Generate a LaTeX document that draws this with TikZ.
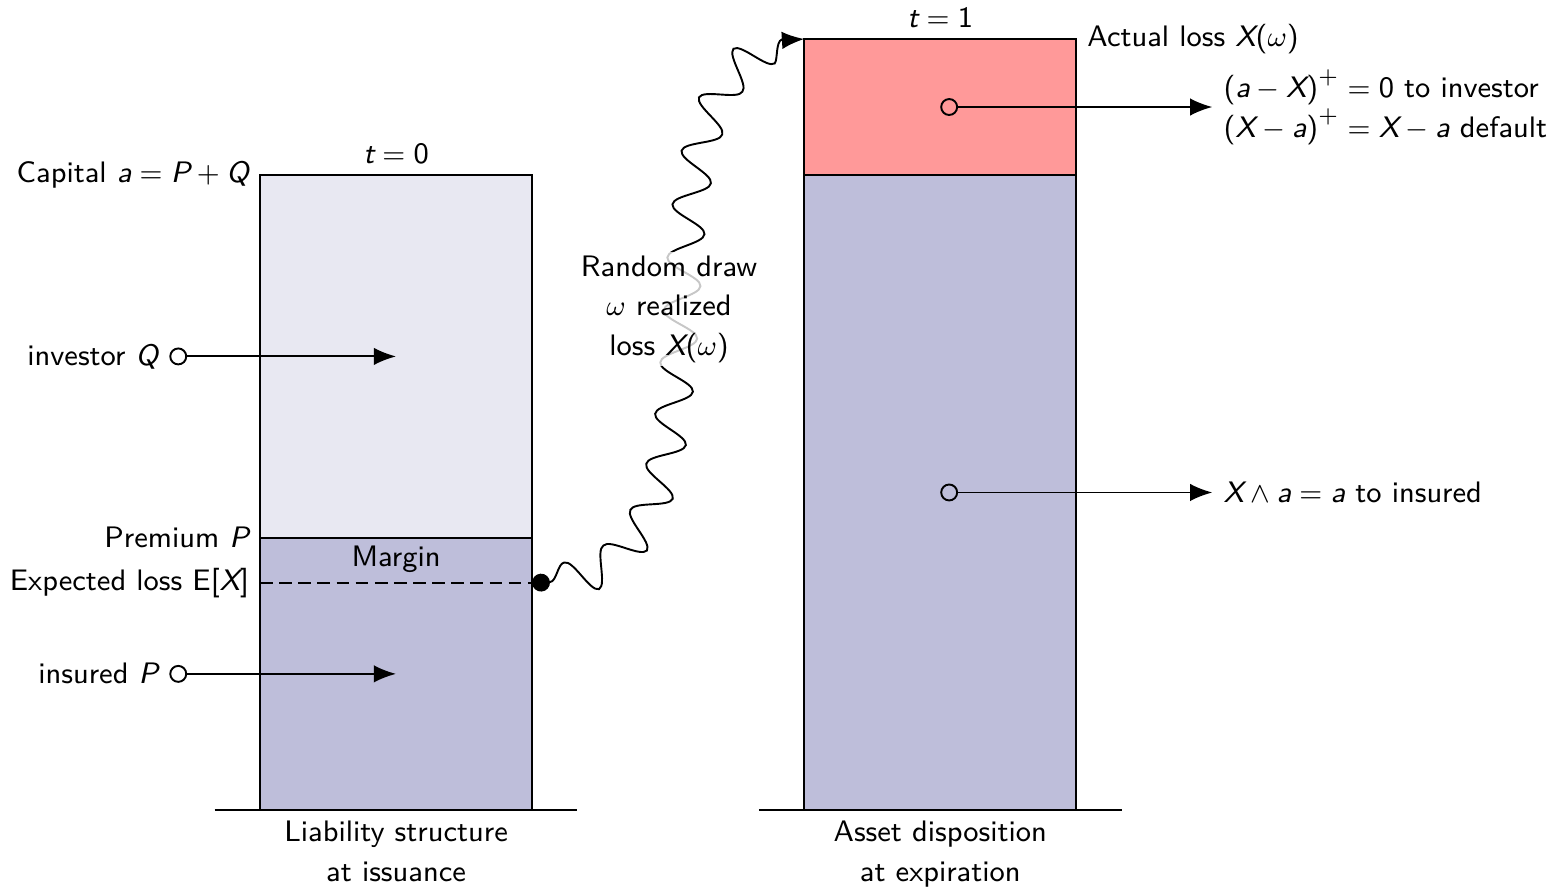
\documentclass[tikz,border=0pt]{standalone}
\usetikzlibrary{arrows.meta,decorations.pathmorphing}
\definecolor{lowfill}{RGB}{190,190,218}
\definecolor{topfill}{RGB}{232,232,242}
\definecolor{redfill}{RGB}{255,153,153}
\newcommand{\mv}[1]{\mbox{\sffamily\itshape #1}}
\newcommand{\mup}[1]{\mbox{\sffamily #1}}
\newcommand{\lp}{\mup{(}}
\newcommand{\rp}{\mup{)}}
\tikzset{
  boxline/.style={draw=black, semithick},
  groundline/.style={semithick},
  flow/.style={semithick, {Circle[open,length=5.6pt,width=5.6pt,line width=0.6pt]}-{Latex[length=7pt,width=5.5pt]}},
  lbl/.style={inner sep=3.3pt},
  levelline/.style={semithick, dash pattern=on 4pt off 2pt},
  drawsnake/.style={semithick, {Circle[length=5.6pt,width=5.6pt]}-{Latex[length=7pt,width=5.5pt]},
    decorate, decoration={snake, amplitude=5.5pt, segment length=5.8mm, pre length=2mm, post length=2mm}},
}
\begin{document}
\begin{tikzpicture}[font=\sffamily\fontsize{9.3}{12.5}\selectfont]
\useasboundingbox (-2.867,-0.860) rectangle (14.234,8.930);
% left column
\coordinate (L0) at (0,0);
\coordinate (LP) at (3,3);
\coordinate (LPl) at (0,3);
\coordinate (LT) at (3,7);
\coordinate (LTl) at (0,7);
\coordinate (ELl) at (0,2.5);
\coordinate (ELr) at (3,2.5);
\fill[lowfill] (L0) rectangle (LP);
\fill[topfill] (LPl) rectangle (LT);
\draw[boxline] (L0) rectangle (LT);
\draw[boxline] (LPl) -- (LP);
\draw[levelline] (ELl) -- (ELr);
\draw[groundline] (-0.5,0) -- (3.5,0);
% right column
\coordinate (R0) at (6,0);
\coordinate (RMr) at (9,7);
\coordinate (RMl) at (6,7);
\coordinate (RT) at (9,8.5);
\coordinate (RTl) at (6,8.5);
\fill[lowfill] (R0) rectangle (RMr);
\fill[redfill] (RMl) rectangle (RT);
\draw[boxline] (R0) rectangle (RT);
\draw[boxline] (RMl) -- (RMr);
\draw[levelline] (RTl) -- (RT);
\draw[groundline] (5.5,0) -- (9.5,0);

% labels left
\node[lbl, above] (t0) at (1.5,7) {$\mv{t}=\mup{0}$};
\node[lbl, anchor=east] (cap) at (LTl) {Capital $\mv{a}=\mv{P}+\mv{Q}$};
\node[lbl, anchor=east] (prem) at (LPl) {Premium $\mv{P}$};
\node[lbl, anchor=east] (el) at (ELl) {Expected loss $\mup{E}\mup{[}\mv{X}\mup{]}$};
\node[lbl] (marg) at (1.5,2.76) {Margin};
\node[lbl, below, align=center] (liab) at (1.5,0) {Liability structure\\at issuance};

% left flows
\coordinate (invS) at (-1,5);
\coordinate (invE) at (1.5,5);
\coordinate (insS) at (-1,1.5);
\coordinate (insE) at (1.5,1.5);
\draw[flow] (invS) -- (invE);
\draw[flow] (insS) -- (insE);
\node[lbl, anchor=east] (invl) at (invS) {investor $\mv{Q}$};
\node[lbl, anchor=east] (insl) at (insS) {insured $\mv{P}$};

% right labels
\node[lbl, above] (t1) at (7.5,8.5) {$\mv{t}=\mup{1}$};
\node[lbl, anchor=west] (act) at (RT) {Actual loss $\mv{X}\lp\omega\rp$};
\node[lbl, below, align=center] (asset) at (7.5,0) {Asset disposition\\at expiration};

\coordinate (rS1) at (7.5,7.75);
\coordinate (rE1) at (10.5,7.75);
\coordinate (rS2) at (7.5,3.5);
\coordinate (rE2) at (10.5,3.5);
\draw[flow] (rS1) -- (rE1);
\draw[flow] (rS2) -- (rE2);
\node[lbl, anchor=west, align=left] (out1) at (rE1) {$\lp\mv{a}-\mv{X}\rp^+=\mup{0}$ to investor\\$\lp\mv{X}-\mv{a}\rp^+=\mv{X}-\mv{a}$ default};
\node[lbl, anchor=west] (out2) at (rE2) {$\mv{X}\wedge \mv{a}=\mv{a}$ to insured};

% random draw
\draw[drawsnake] (ELr) to[out=0,in=180] (RTl);
\node[fill=white, fill opacity=0.78, text opacity=1, align=center, inner sep=1pt] (rd) at (4.51,5.52) {Random draw\\$\omega$ realized\\loss $\mv{X}\lp\omega\rp$};
\end{tikzpicture}
\end{document}
